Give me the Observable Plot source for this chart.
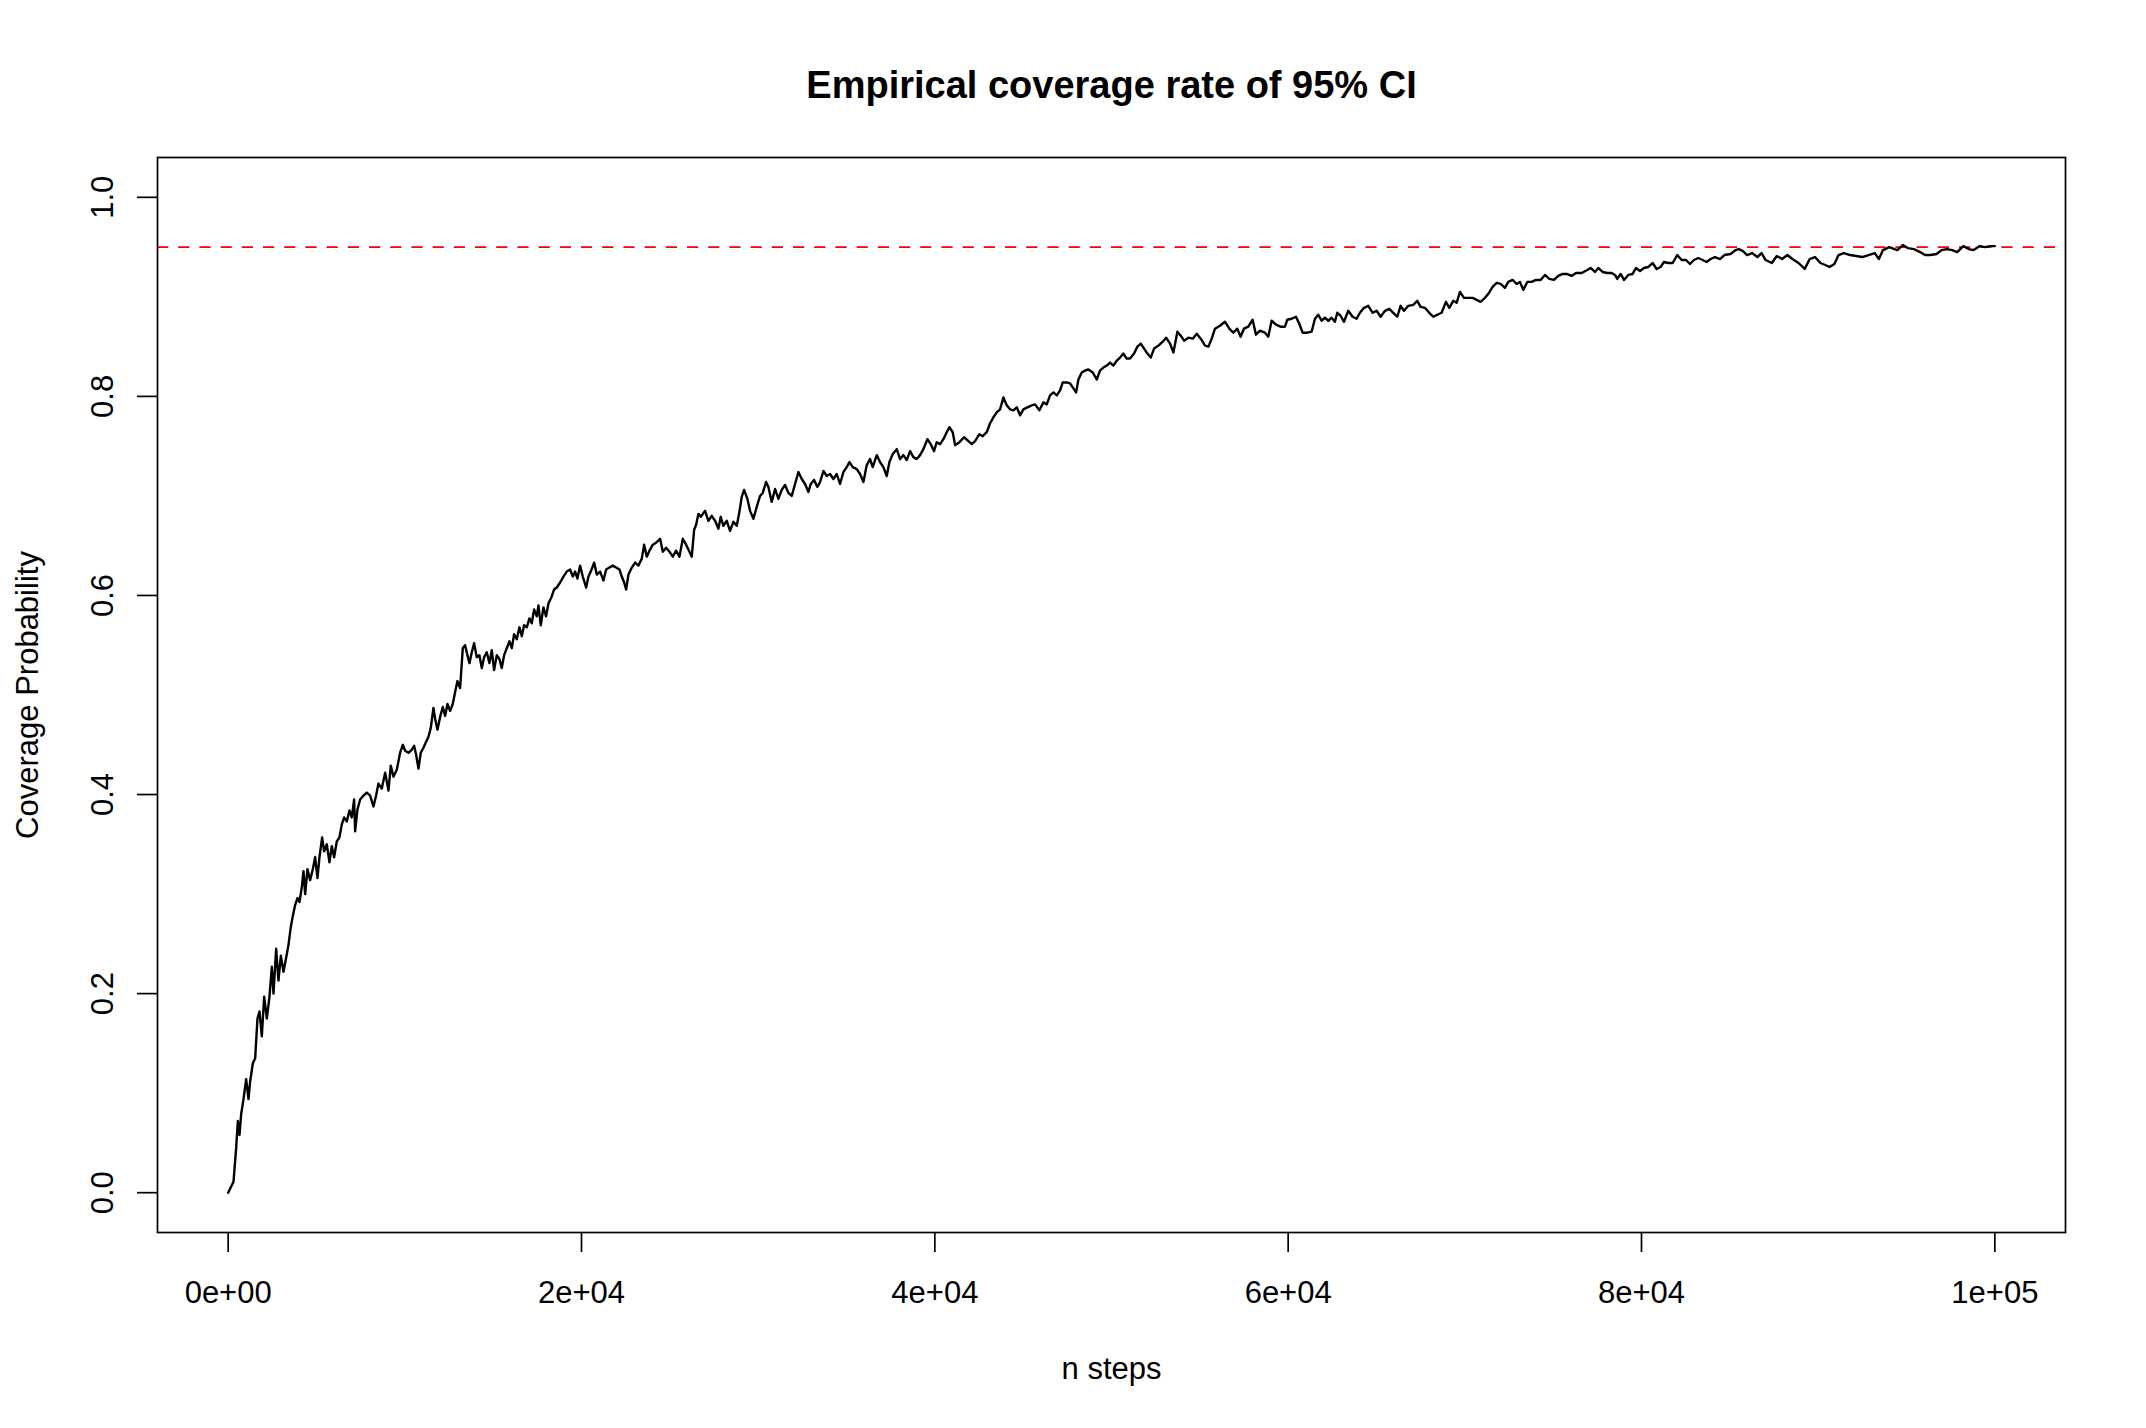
<!DOCTYPE html>
<html>
<head>
<meta charset="utf-8">
<script src="https://cdn.jsdelivr.net/npm/d3@7"></script>
<script src="https://cdn.jsdelivr.net/npm/@observablehq/plot@0.6"></script>
<style>
  html, body { margin: 0; padding: 0; background: #fff; overflow: hidden; }
  #chart svg { display: block; }
</style>
</head>
<body>
<div id="chart"></div>
<script>
const titleText = "Empirical coverage rate of 95% CI";
const xLabel = "n steps";
const yLabel = "Coverage Probability";
const xTicks = [0, 20000, 40000, 60000, 80000, 100000];
const xTickLabels = ["0e+00", "2e+04", "4e+04", "6e+04", "8e+04", "1e+05"];
const yTicks = [0, 0.2, 0.4, 0.6, 0.8, 1.0];
const yTickLabels = ["0.0", "0.2", "0.4", "0.6", "0.8", "1.0"];
const targetRate = 0.95;

const steps = [
0,302,453,547,641,736,868,1019,1151,1245,1396,1528,1660,1773,1905,2037,2188,2339,2471,2565,
2716,2848,2980,3131,3282,3414,3546,3659,3791,3923,4037,4169,4263,4357,4489,4640,4791,4923,5055,5168,
5319,5432,5583,5734,5866,5998,6149,6300,6432,6564,6715,6866,6998,7130,7187,7319,7470,7658,7847,8036,
8224,8375,8507,8696,8885,9073,9205,9356,9545,9734,9885,10017,10205,10394,10526,10639,10771,10903,11054,11205,
11337,11469,11620,11715,11847,11997,12148,12280,12412,12563,12714,12846,12978,13129,13280,13412,13544,13657,13789,13921,
14072,14223,14355,14487,14638,14789,14921,15053,15204,15355,15487,15619,15770,15921,16053,16185,16336,16487,16619,16751,
16902,17053,17185,17317,17468,17563,17695,17846,17997,18129,18318,18450,18601,18790,18978,19167,19356,19507,19639,19771,
19922,20073,20262,20394,20526,20715,20866,21054,21243,21394,21583,21771,21960,22149,22281,22413,22526,22658,22847,23036,
23224,23413,23545,23696,23847,24036,24224,24451,24602,24790,24979,25168,25356,25545,25734,25922,26111,26243,26375,26488,
26620,26749,26994,27183,27372,27561,27749,27881,28032,28221,28409,28598,28787,28938,29070,29202,29391,29542,29730,29919,
30108,30259,30447,30579,30768,30957,31146,31334,31523,31712,31900,32089,32278,32467,32655,32844,32976,33165,33353,33504,
33693,33882,34070,34259,34448,34636,34825,35014,35165,35353,35580,35768,35957,36146,36334,36485,36712,36900,37089,37278,
37429,37618,37844,38033,38221,38410,38599,38787,38976,39165,39353,39580,39768,39957,40108,40297,40485,40674,40825,41014,
41146,41391,41655,41900,42089,42278,42523,42712,42938,43127,43315,43504,43693,43882,44070,44259,44448,44636,44825,45014,
45240,45486,45674,45920,46146,46335,46523,46712,46901,47089,47240,47467,47655,47844,47995,48127,48316,48504,48693,48938,
49165,49353,49542,49731,49919,50108,50297,50485,50674,50863,51051,51278,51467,51655,51844,52033,52221,52410,52655,52901,
53089,53316,53504,53731,53919,54108,54353,54599,54825,55052,55297,55486,55674,55856,56139,56422,56668,56894,57121,57309,
57498,57743,57988,58177,58404,58686,58875,59064,59309,59573,59818,59950,60196,60441,60629,60818,61082,61327,61516,61705,
61893,62082,62271,62460,62648,62780,62969,63158,63403,63648,63875,64064,64290,64535,64781,65007,65233,65479,65724,65950,
66177,66365,66554,66799,67082,67308,67497,67742,67988,68214,68441,68686,68931,69120,69346,69535,69724,69950,70196,70441,
70667,70894,71139,71328,71573,71799,72026,72271,72460,72705,72931,73120,73309,73535,73780,74026,74290,74535,74781,75044,
75290,75535,75762,76045,76290,76611,76932,77120,77365,77554,77799,78064,78309,78498,78630,78818,79007,79252,79498,79686,
79913,80139,80385,80630,80856,81083,81271,81516,81762,82026,82271,82516,82743,82969,83214,83460,83686,83913,84158,84441,
84691,85040,85320,85507,85742,85978,86257,86560,86794,87027,87377,87657,87957,88260,88540,88890,89240,89519,89823,90126,
90406,90639,90919,91152,91455,91805,92154,92504,92854,93204,93437,93670,94020,94323,94486,94790,95070,95419,95769,96049,
96352,96702,96981,97285,97588,97868,98217,98521,98800,99150,99453,99733,100000
];

const coverage = [
0,0.011,0.045,0.072,0.058,0.079,0.094,0.114,0.094,0.112,0.130,0.135,0.175,0.182,0.157,0.197,0.175,0.197,0.227,0.200,
0.245,0.213,0.238,0.222,0.236,0.249,0.267,0.278,0.289,0.296,0.292,0.307,0.323,0.300,0.325,0.314,0.325,0.337,0.316,0.337,
0.357,0.343,0.350,0.332,0.348,0.337,0.353,0.357,0.370,0.377,0.373,0.384,0.377,0.395,0.363,0.385,0.395,0.399,0.402,0.399,
0.388,0.399,0.411,0.406,0.422,0.404,0.429,0.418,0.425,0.442,0.450,0.444,0.442,0.445,0.449,0.440,0.426,0.442,0.447,0.453,
0.458,0.467,0.487,0.476,0.465,0.478,0.488,0.479,0.491,0.484,0.491,0.503,0.514,0.507,0.547,0.550,0.540,0.532,0.543,0.552,
0.538,0.540,0.527,0.538,0.543,0.532,0.545,0.525,0.540,0.536,0.527,0.540,0.547,0.554,0.547,0.561,0.556,0.568,0.559,0.570,
0.568,0.577,0.572,0.586,0.579,0.590,0.570,0.588,0.579,0.592,0.599,0.606,0.608,0.613,0.619,0.624,0.626,0.619,0.624,0.617,
0.630,0.619,0.608,0.619,0.624,0.633,0.621,0.624,0.615,0.626,0.628,0.630,0.628,0.626,0.619,0.613,0.606,0.621,0.628,0.633,
0.630,0.637,0.651,0.639,0.645,0.651,0.653,0.657,0.644,0.648,0.644,0.639,0.645,0.639,0.657,0.651,0.644,0.639,0.666,0.671,
0.682,0.679,0.685,0.675,0.680,0.675,0.667,0.679,0.670,0.675,0.665,0.674,0.670,0.684,0.699,0.706,0.697,0.685,0.677,0.689,
0.700,0.703,0.714,0.709,0.694,0.707,0.697,0.706,0.711,0.703,0.700,0.712,0.724,0.717,0.712,0.704,0.712,0.716,0.709,0.714,
0.725,0.720,0.722,0.717,0.722,0.712,0.724,0.729,0.734,0.729,0.727,0.722,0.714,0.731,0.737,0.729,0.741,0.734,0.729,0.720,
0.734,0.742,0.747,0.737,0.741,0.736,0.745,0.739,0.737,0.741,0.747,0.757,0.752,0.745,0.754,0.752,0.757,0.764,0.769,0.764,
0.751,0.754,0.759,0.755,0.752,0.755,0.762,0.760,0.764,0.773,0.779,0.784,0.787,0.799,0.791,0.787,0.786,0.789,0.781,0.787,
0.789,0.791,0.792,0.786,0.794,0.792,0.801,0.804,0.801,0.806,0.814,0.814,0.813,0.808,0.804,0.817,0.824,0.826,0.827,0.824,
0.817,0.826,0.829,0.831,0.834,0.831,0.836,0.839,0.843,0.838,0.838,0.843,0.850,0.853,0.848,0.843,0.839,0.848,0.851,0.855,
0.859,0.853,0.844,0.865,0.861,0.856,0.859,0.858,0.863,0.858,0.851,0.850,0.858,0.868,0.871,0.875,0.868,0.864,0.868,0.860,
0.868,0.870,0.877,0.862,0.866,0.864,0.860,0.876,0.872,0.870,0.870,0.877,0.878,0.880,0.873,0.864,0.864,0.865,0.878,0.882,
0.876,0.879,0.876,0.879,0.875,0.884,0.881,0.875,0.886,0.880,0.878,0.884,0.889,0.891,0.884,0.886,0.880,0.886,0.888,0.884,
0.880,0.891,0.886,0.891,0.892,0.896,0.890,0.889,0.884,0.880,0.882,0.884,0.895,0.889,0.896,0.894,0.905,0.899,0.899,0.899,
0.897,0.895,0.899,0.903,0.910,0.914,0.913,0.909,0.915,0.917,0.913,0.915,0.907,0.915,0.915,0.917,0.917,0.922,0.918,0.917,
0.921,0.923,0.923,0.921,0.924,0.924,0.927,0.929,0.925,0.929,0.925,0.924,0.924,0.922,0.918,0.923,0.917,0.922,0.923,0.929,
0.926,0.929,0.930,0.934,0.928,0.930,0.935,0.934,0.934,0.942,0.937,0.937,0.933,0.937,0.939,0.937,0.935,0.938,0.940,0.938,
0.942,0.943,0.947,0.948,0.946,0.942,0.944,0.940,0.944,0.937,0.934,0.941,0.938,0.942,0.938,0.934,0.928,0.938,0.940,0.934,
0.932,0.930,0.933,0.942,0.944,0.942,0.941,0.940,0.942,0.944,0.938,0.947,0.950,0.948,0.947,0.952,0.949,0.948,0.945,0.942,
0.942,0.943,0.947,0.948,0.947,0.945,0.951,0.948,0.947,0.951,0.950,0.951,0.951
];

const data = steps.map((s, i) => ({step: s, coverage: coverage[i]}));

const font = "'Liberation Sans', Arial, Helvetica, sans-serif";

const chart = Plot.plot({
  width: 2146,
  height: 1428,
  marginLeft: 157,
  marginRight: 81,
  marginTop: 157,
  marginBottom: 196,
  x: {domain: [-4000, 104000]},
  y: {domain: [-0.04, 1.04]},
  style: {fontFamily: font, fontSize: "31px", color: "black", background: "white", overflow: "visible"},
  marks: [
    Plot.ruleY([targetRate], {stroke: "#ff0000", strokeWidth: 1.7, strokeDasharray: "11.2,10"}),
    Plot.line(data, {x: "step", y: "coverage", stroke: "black", strokeWidth: 2.4}),
    Plot.frame({stroke: "black", strokeWidth: 1.7}),
    Plot.axisX({
      ticks: xTicks, tickSize: 20, tickPadding: 28, strokeWidth: 1.7,
      tickFormat: d => xTickLabels[xTicks.indexOf(d)],
      label: null, fontSize: 31, fill: "black"
    }),
    Plot.axisY({
      ticks: yTicks, tickSize: 20, tickPadding: 25, tickRotate: -90, strokeWidth: 1.7,
      tickFormat: d => yTickLabels[yTicks.findIndex(t => Math.abs(t - d) < 1e-9)],
      label: null, fontSize: 31, fill: "black"
    }),
    Plot.text([titleText], {frameAnchor: "top", dy: -60, lineAnchor: "bottom", fontWeight: "bold", fontSize: 38, fill: "black"}),
    Plot.text([xLabel], {frameAnchor: "bottom", dy: 146, lineAnchor: "bottom", fontSize: 31, fill: "black"}),
    Plot.text([yLabel], {frameAnchor: "left", dx: -120, rotate: -90, textAnchor: "middle", lineAnchor: "bottom", fontSize: 31, fill: "black"})
  ]
});

document.getElementById("chart").appendChild(chart);
</script>
</body>
</html>
